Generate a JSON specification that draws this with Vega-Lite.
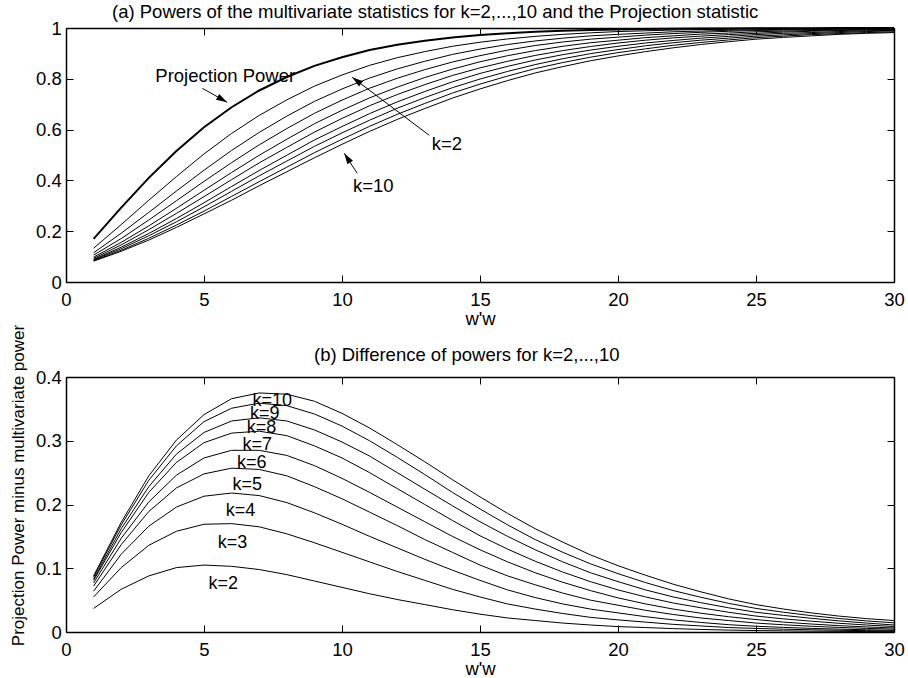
{
"$schema": "https://vega.github.io/schema/vega-lite/v6.json",
"padding": {"left": 9, "top": 2, "right": 4, "bottom": 2},
"spacing": -4,
"config": {
  "font": "Liberation Sans",
  "view": {"stroke": null},
  "axis": {"grid": false, "domainColor": "black", "domainWidth": 1.5, "tickColor": "black", "tickWidth": 1, "tickSize": -7, "labelColor": "black", "labelFont": "Liberation Sans", "labelFontSize": 18.5, "labelFlush": false, "labelOverlap": false, "titleColor": "black", "titleFont": "Liberation Sans", "titleFontSize": 18.5, "titleFontWeight": "normal"},
  "title": {"font": "Liberation Sans", "fontSize": 18.5, "fontWeight": "normal", "color": "black"}
},
"datasets": {
"proj": [{"x":1,"p":0.170},{"x":2,"p":0.293},{"x":3,"p":0.410},{"x":4,"p":0.516},{"x":5,"p":0.609},{"x":6,"p":0.688},{"x":7,"p":0.754},{"x":8,"p":0.807},{"x":9,"p":0.851},{"x":10,"p":0.885},{"x":11,"p":0.913},{"x":12,"p":0.934},{"x":13,"p":0.950},{"x":14,"p":0.963},{"x":15,"p":0.972},{"x":16,"p":0.979},{"x":17,"p":0.985},{"x":18,"p":0.989},{"x":19,"p":0.992},{"x":20,"p":0.994},{"x":21,"p":0.9956},{"x":22,"p":0.9968},{"x":23,"p":0.9977},{"x":24,"p":0.9984},{"x":25,"p":0.9988},{"x":26,"p":0.9992},{"x":27,"p":0.9994},{"x":28,"p":0.9996},{"x":29,"p":0.9997},{"x":30,"p":0.9998}],
"curves": [
{"x":1,"k":2,"p":0.133,"d":0.037},{"x":1,"k":3,"p":0.115,"d":0.055},{"x":1,"k":4,"p":0.106,"d":0.064},{"x":1,"k":5,"p":0.098,"d":0.072},{"x":1,"k":6,"p":0.093,"d":0.077},{"x":1,"k":7,"p":0.089,"d":0.081},{"x":1,"k":8,"p":0.087,"d":0.083},{"x":1,"k":9,"p":0.084,"d":0.086},{"x":1,"k":10,"p":0.082,"d":0.088},
{"x":2,"k":2,"p":0.226,"d":0.067},{"x":2,"k":3,"p":0.192,"d":0.101},{"x":2,"k":4,"p":0.171,"d":0.122},{"x":2,"k":5,"p":0.156,"d":0.137},{"x":2,"k":6,"p":0.146,"d":0.147},{"x":2,"k":7,"p":0.137,"d":0.156},{"x":2,"k":8,"p":0.131,"d":0.162},{"x":2,"k":9,"p":0.125,"d":0.168},{"x":2,"k":10,"p":0.121,"d":0.172},
{"x":3,"k":2,"p":0.322,"d":0.088},{"x":3,"k":3,"p":0.274,"d":0.136},{"x":3,"k":4,"p":0.244,"d":0.166},{"x":3,"k":5,"p":0.221,"d":0.189},{"x":3,"k":6,"p":0.206,"d":0.204},{"x":3,"k":7,"p":0.191,"d":0.219},{"x":3,"k":8,"p":0.182,"d":0.228},{"x":3,"k":9,"p":0.172,"d":0.238},{"x":3,"k":10,"p":0.165,"d":0.245},
{"x":4,"k":2,"p":0.415,"d":0.101},{"x":4,"k":3,"p":0.358,"d":0.158},{"x":4,"k":4,"p":0.320,"d":0.196},{"x":4,"k":5,"p":0.290,"d":0.226},{"x":4,"k":6,"p":0.270,"d":0.246},{"x":4,"k":7,"p":0.250,"d":0.266},{"x":4,"k":8,"p":0.237,"d":0.279},{"x":4,"k":9,"p":0.224,"d":0.292},{"x":4,"k":10,"p":0.215,"d":0.301},
{"x":5,"k":2,"p":0.504,"d":0.105},{"x":5,"k":3,"p":0.440,"d":0.169},{"x":5,"k":4,"p":0.396,"d":0.213},{"x":5,"k":5,"p":0.361,"d":0.248},{"x":5,"k":6,"p":0.336,"d":0.273},{"x":5,"k":7,"p":0.312,"d":0.297},{"x":5,"k":8,"p":0.296,"d":0.313},{"x":5,"k":9,"p":0.279,"d":0.330},{"x":5,"k":10,"p":0.268,"d":0.341},
{"x":6,"k":2,"p":0.585,"d":0.103},{"x":6,"k":3,"p":0.518,"d":0.170},{"x":6,"k":4,"p":0.470,"d":0.218},{"x":6,"k":5,"p":0.431,"d":0.257},{"x":6,"k":6,"p":0.403,"d":0.285},{"x":6,"k":7,"p":0.376,"d":0.312},{"x":6,"k":8,"p":0.357,"d":0.331},{"x":6,"k":9,"p":0.337,"d":0.351},{"x":6,"k":10,"p":0.322,"d":0.366},
{"x":7,"k":2,"p":0.656,"d":0.098},{"x":7,"k":3,"p":0.589,"d":0.165},{"x":7,"k":4,"p":0.540,"d":0.214},{"x":7,"k":5,"p":0.499,"d":0.255},{"x":7,"k":6,"p":0.469,"d":0.285},{"x":7,"k":7,"p":0.439,"d":0.315},{"x":7,"k":8,"p":0.418,"d":0.336},{"x":7,"k":9,"p":0.395,"d":0.359},{"x":7,"k":10,"p":0.379,"d":0.375},
{"x":8,"k":2,"p":0.717,"d":0.090},{"x":8,"k":3,"p":0.653,"d":0.154},{"x":8,"k":4,"p":0.604,"d":0.203},{"x":8,"k":5,"p":0.562,"d":0.245},{"x":8,"k":6,"p":0.530,"d":0.277},{"x":8,"k":7,"p":0.499,"d":0.308},{"x":8,"k":8,"p":0.476,"d":0.331},{"x":8,"k":9,"p":0.452,"d":0.355},{"x":8,"k":10,"p":0.434,"d":0.373},
{"x":9,"k":2,"p":0.771,"d":0.080},{"x":9,"k":3,"p":0.711,"d":0.140},{"x":9,"k":4,"p":0.664,"d":0.187},{"x":9,"k":5,"p":0.623,"d":0.228},{"x":9,"k":6,"p":0.590,"d":0.261},{"x":9,"k":7,"p":0.559,"d":0.292},{"x":9,"k":8,"p":0.534,"d":0.317},{"x":9,"k":9,"p":0.509,"d":0.342},{"x":9,"k":10,"p":0.489,"d":0.362},
{"x":10,"k":2,"p":0.815,"d":0.070},{"x":10,"k":3,"p":0.760,"d":0.125},{"x":10,"k":4,"p":0.716,"d":0.169},{"x":10,"k":5,"p":0.676,"d":0.209},{"x":10,"k":6,"p":0.644,"d":0.241},{"x":10,"k":7,"p":0.612,"d":0.273},{"x":10,"k":8,"p":0.587,"d":0.298},{"x":10,"k":9,"p":0.562,"d":0.323},{"x":10,"k":10,"p":0.542,"d":0.343},
{"x":11,"k":2,"p":0.853,"d":0.060},{"x":11,"k":3,"p":0.803,"d":0.110},{"x":11,"k":4,"p":0.763,"d":0.150},{"x":11,"k":5,"p":0.725,"d":0.188},{"x":11,"k":6,"p":0.694,"d":0.219},{"x":11,"k":7,"p":0.663,"d":0.250},{"x":11,"k":8,"p":0.637,"d":0.276},{"x":11,"k":9,"p":0.613,"d":0.300},{"x":11,"k":10,"p":0.593,"d":0.320},
{"x":12,"k":2,"p":0.883,"d":0.051},{"x":12,"k":3,"p":0.839,"d":0.095},{"x":12,"k":4,"p":0.802,"d":0.132},{"x":12,"k":5,"p":0.767,"d":0.167},{"x":12,"k":6,"p":0.738,"d":0.196},{"x":12,"k":7,"p":0.709,"d":0.225},{"x":12,"k":8,"p":0.684,"d":0.250},{"x":12,"k":9,"p":0.660,"d":0.274},{"x":12,"k":10,"p":0.640,"d":0.294},
{"x":13,"k":2,"p":0.907,"d":0.043},{"x":13,"k":3,"p":0.869,"d":0.081},{"x":13,"k":4,"p":0.836,"d":0.114},{"x":13,"k":5,"p":0.805,"d":0.145},{"x":13,"k":6,"p":0.777,"d":0.173},{"x":13,"k":7,"p":0.750,"d":0.200},{"x":13,"k":8,"p":0.726,"d":0.224},{"x":13,"k":9,"p":0.703,"d":0.247},{"x":13,"k":10,"p":0.683,"d":0.267},
{"x":14,"k":2,"p":0.928,"d":0.035},{"x":14,"k":3,"p":0.896,"d":0.067},{"x":14,"k":4,"p":0.866,"d":0.097},{"x":14,"k":5,"p":0.838,"d":0.125},{"x":14,"k":6,"p":0.813,"d":0.150},{"x":14,"k":7,"p":0.788,"d":0.175},{"x":14,"k":8,"p":0.765,"d":0.198},{"x":14,"k":9,"p":0.744,"d":0.219},{"x":14,"k":10,"p":0.724,"d":0.239},
{"x":15,"k":2,"p":0.944,"d":0.028},{"x":15,"k":3,"p":0.917,"d":0.055},{"x":15,"k":4,"p":0.891,"d":0.081},{"x":15,"k":5,"p":0.867,"d":0.105},{"x":15,"k":6,"p":0.843,"d":0.129},{"x":15,"k":7,"p":0.821,"d":0.151},{"x":15,"k":8,"p":0.799,"d":0.173},{"x":15,"k":9,"p":0.779,"d":0.193},{"x":15,"k":10,"p":0.760,"d":0.212},
{"x":16,"k":2,"p":0.957,"d":0.022},{"x":16,"k":3,"p":0.935,"d":0.044},{"x":16,"k":4,"p":0.913,"d":0.066},{"x":16,"k":5,"p":0.891,"d":0.088},{"x":16,"k":6,"p":0.869,"d":0.110},{"x":16,"k":7,"p":0.849,"d":0.130},{"x":16,"k":8,"p":0.829,"d":0.150},{"x":16,"k":9,"p":0.811,"d":0.168},{"x":16,"k":10,"p":0.793,"d":0.186},
{"x":17,"k":2,"p":0.967,"d":0.018},{"x":17,"k":3,"p":0.949,"d":0.036},{"x":17,"k":4,"p":0.931,"d":0.054},{"x":17,"k":5,"p":0.911,"d":0.074},{"x":17,"k":6,"p":0.892,"d":0.093},{"x":17,"k":7,"p":0.874,"d":0.111},{"x":17,"k":8,"p":0.856,"d":0.129},{"x":17,"k":9,"p":0.840,"d":0.145},{"x":17,"k":10,"p":0.823,"d":0.162},
{"x":18,"k":2,"p":0.975,"d":0.014},{"x":18,"k":3,"p":0.960,"d":0.029},{"x":18,"k":4,"p":0.945,"d":0.044},{"x":18,"k":5,"p":0.928,"d":0.061},{"x":18,"k":6,"p":0.911,"d":0.078},{"x":18,"k":7,"p":0.895,"d":0.094},{"x":18,"k":8,"p":0.879,"d":0.110},{"x":18,"k":9,"p":0.864,"d":0.125},{"x":18,"k":10,"p":0.848,"d":0.141},
{"x":19,"k":2,"p":0.981,"d":0.011},{"x":19,"k":3,"p":0.969,"d":0.023},{"x":19,"k":4,"p":0.956,"d":0.036},{"x":19,"k":5,"p":0.942,"d":0.050},{"x":19,"k":6,"p":0.927,"d":0.065},{"x":19,"k":7,"p":0.913,"d":0.079},{"x":19,"k":8,"p":0.899,"d":0.093},{"x":19,"k":9,"p":0.885,"d":0.107},{"x":19,"k":10,"p":0.871,"d":0.121},
{"x":20,"k":2,"p":0.986,"d":0.0085},{"x":20,"k":3,"p":0.975,"d":0.019},{"x":20,"k":4,"p":0.964,"d":0.030},{"x":20,"k":5,"p":0.952,"d":0.042},{"x":20,"k":6,"p":0.941,"d":0.0535},{"x":20,"k":7,"p":0.928,"d":0.066},{"x":20,"k":8,"p":0.915,"d":0.079},{"x":20,"k":9,"p":0.903,"d":0.0915},{"x":20,"k":10,"p":0.890,"d":0.104},
{"x":21,"k":2,"p":0.989,"d":0.007},{"x":21,"k":3,"p":0.980,"d":0.0155},{"x":21,"k":4,"p":0.972,"d":0.024},{"x":21,"k":5,"p":0.962,"d":0.034},{"x":21,"k":6,"p":0.952,"d":0.044},{"x":21,"k":7,"p":0.941,"d":0.055},{"x":21,"k":8,"p":0.930,"d":0.066},{"x":21,"k":9,"p":0.918,"d":0.0775},{"x":21,"k":10,"p":0.907,"d":0.089},
{"x":22,"k":2,"p":0.992,"d":0.0053},{"x":22,"k":3,"p":0.985,"d":0.012},{"x":22,"k":4,"p":0.978,"d":0.019},{"x":22,"k":5,"p":0.969,"d":0.0275},{"x":22,"k":6,"p":0.961,"d":0.036},{"x":22,"k":7,"p":0.951,"d":0.0455},{"x":22,"k":8,"p":0.942,"d":0.055},{"x":22,"k":9,"p":0.932,"d":0.065},{"x":22,"k":10,"p":0.922,"d":0.075},
{"x":23,"k":2,"p":0.994,"d":0.004},{"x":23,"k":3,"p":0.988,"d":0.0095},{"x":23,"k":4,"p":0.983,"d":0.015},{"x":23,"k":5,"p":0.976,"d":0.022},{"x":23,"k":6,"p":0.968,"d":0.0295},{"x":23,"k":7,"p":0.960,"d":0.038},{"x":23,"k":8,"p":0.952,"d":0.046},{"x":23,"k":9,"p":0.943,"d":0.0545},{"x":23,"k":10,"p":0.935,"d":0.063},
{"x":24,"k":2,"p":0.995,"d":0.003},{"x":24,"k":3,"p":0.991,"d":0.007},{"x":24,"k":4,"p":0.987,"d":0.0115},{"x":24,"k":5,"p":0.980,"d":0.018},{"x":24,"k":6,"p":0.974,"d":0.024},{"x":24,"k":7,"p":0.967,"d":0.031},{"x":24,"k":8,"p":0.960,"d":0.038},{"x":24,"k":9,"p":0.953,"d":0.045},{"x":24,"k":10,"p":0.946,"d":0.052},
{"x":25,"k":2,"p":0.997,"d":0.0023},{"x":25,"k":3,"p":0.993,"d":0.0056},{"x":25,"k":4,"p":0.990,"d":0.009},{"x":25,"k":5,"p":0.985,"d":0.014},{"x":25,"k":6,"p":0.979,"d":0.0195},{"x":25,"k":7,"p":0.974,"d":0.025},{"x":25,"k":8,"p":0.968,"d":0.031},{"x":25,"k":9,"p":0.962,"d":0.037},{"x":25,"k":10,"p":0.956,"d":0.043},
{"x":26,"k":2,"p":0.997,"d":0.0018},{"x":26,"k":3,"p":0.995,"d":0.0044},{"x":26,"k":4,"p":0.992,"d":0.0072},{"x":26,"k":5,"p":0.988,"d":0.0113},{"x":26,"k":6,"p":0.984,"d":0.0155},{"x":26,"k":7,"p":0.979,"d":0.0206},{"x":26,"k":8,"p":0.973,"d":0.026},{"x":26,"k":9,"p":0.968,"d":0.031},{"x":26,"k":10,"p":0.963,"d":0.036},
{"x":27,"k":2,"p":0.998,"d":0.0013},{"x":27,"k":3,"p":0.996,"d":0.0035},{"x":27,"k":4,"p":0.994,"d":0.0057},{"x":27,"k":5,"p":0.990,"d":0.009},{"x":27,"k":6,"p":0.987,"d":0.0125},{"x":27,"k":7,"p":0.982,"d":0.017},{"x":27,"k":8,"p":0.978,"d":0.0215},{"x":27,"k":9,"p":0.974,"d":0.0257},{"x":27,"k":10,"p":0.969,"d":0.030},
{"x":28,"k":2,"p":0.999,"d":0.001},{"x":28,"k":3,"p":0.997,"d":0.0027},{"x":28,"k":4,"p":0.995,"d":0.0045},{"x":28,"k":5,"p":0.992,"d":0.0072},{"x":28,"k":6,"p":0.990,"d":0.010},{"x":28,"k":7,"p":0.986,"d":0.0137},{"x":28,"k":8,"p":0.982,"d":0.0175},{"x":28,"k":9,"p":0.978,"d":0.0212},{"x":28,"k":10,"p":0.975,"d":0.025},
{"x":29,"k":2,"p":0.999,"d":0.0007},{"x":29,"k":3,"p":0.998,"d":0.0021},{"x":29,"k":4,"p":0.996,"d":0.0035},{"x":29,"k":5,"p":0.994,"d":0.0057},{"x":29,"k":6,"p":0.992,"d":0.008},{"x":29,"k":7,"p":0.989,"d":0.011},{"x":29,"k":8,"p":0.986,"d":0.014},{"x":29,"k":9,"p":0.982,"d":0.0174},{"x":29,"k":10,"p":0.979,"d":0.021},
{"x":30,"k":2,"p":0.999,"d":0.0005},{"x":30,"k":3,"p":0.998,"d":0.0015},{"x":30,"k":4,"p":0.997,"d":0.0026},{"x":30,"k":5,"p":0.995,"d":0.0044},{"x":30,"k":6,"p":0.994,"d":0.0063},{"x":30,"k":7,"p":0.991,"d":0.0086},{"x":30,"k":8,"p":0.989,"d":0.011},{"x":30,"k":9,"p":0.985,"d":0.0144},{"x":30,"k":10,"p":0.982,"d":0.018}
],
"toplabels": [{"x":5.77,"y":0.786,"t":"Projection Power"},{"x":13.8,"y":0.5185,"t":"k=2"},{"x":11.13,"y":0.3543,"t":"k=10"}],
"arrows": [{"id":1,"x":4.94,"y":0.7626,"x2":5.84,"y2":0.7075},{"id":2,"x":13.16,"y":0.5776,"x2":10.37,"y2":0.8059},{"id":3,"x":10.55,"y":0.428,"x2":10.08,"y2":0.5067}],
"botlabels": [{"x":7.47,"y":0.3545,"t":"k=10"},{"x":7.20,"y":0.3340,"t":"k=9"},{"x":7.08,"y":0.3120,"t":"k=8"},{"x":6.93,"y":0.2853,"t":"k=7"},{"x":6.73,"y":0.2571,"t":"k=6"},{"x":6.57,"y":0.2226,"t":"k=5"},{"x":6.32,"y":0.1818,"t":"k=4"},{"x":6.03,"y":0.1316,"t":"k=3"},{"x":5.70,"y":0.0671,"t":"k=2"}]
},
"vconcat": [
{
  "width": 828, "height": 254,
  "title": {"text": "(a) Powers of the multivariate statistics for k=2,...,10 and the Projection statistic", "anchor": "start", "frame": "group", "dx": 46, "offset": -2},
  "layer": [
    {"data": {"name": "curves"}, "mark": {"type": "line", "color": "black", "strokeWidth": 1},
     "encoding": {
       "x": {"field": "x", "type": "quantitative", "scale": {"domain": [0, 30], "nice": false, "zero": false}, "axis": {"orient": "bottom", "values": [0,5,10,15,20,25,30], "format": "~g", "title": "w'w", "labelPadding": 15, "titlePadding": 1}},
       "y": {"field": "p", "type": "quantitative", "scale": {"domain": [0, 1], "nice": false}, "axis": {"orient": "left", "values": [0,0.2,0.4,0.6,0.8,1], "format": "~g", "title": null, "labelPadding": 11.7}},
       "detail": {"field": "k", "type": "nominal"}}},
    {"data": {"name": "proj"}, "mark": {"type": "line", "color": "black", "strokeWidth": 2},
     "encoding": {"x": {"field": "x", "type": "quantitative", "axis": null}, "y": {"field": "p", "type": "quantitative", "axis": null}}},
    {"data": {"name": "toplabels"}, "mark": {"type": "text", "fontSize": 18.5, "baseline": "alphabetic", "align": "center", "color": "black", "font": "Liberation Sans"},
     "encoding": {"x": {"field": "x", "type": "quantitative", "axis": null}, "y": {"field": "y", "type": "quantitative", "axis": null}, "text": {"field": "t"}}},
    {"data": {"name": "arrows"}, "mark": {"type": "rule", "color": "black", "strokeWidth": 1},
     "encoding": {"x": {"field": "x", "type": "quantitative", "axis": null}, "y": {"field": "y", "type": "quantitative", "axis": null}, "x2": {"field": "x2"}, "y2": {"field": "y2"}}},
    {"data": {"name": "arrows"}, "transform": [{"filter": "datum.id == 1"}], "mark": {"type": "point", "shape": "M0,0L-0.3,1L0.3,1Z", "filled": true, "color": "black", "opacity": 1, "size": 484, "angle": 119, "strokeWidth": 0},
     "encoding": {"x": {"field": "x2", "type": "quantitative", "axis": null}, "y": {"field": "y2", "type": "quantitative", "axis": null}}},
    {"data": {"name": "arrows"}, "transform": [{"filter": "datum.id == 2"}], "mark": {"type": "point", "shape": "M0,0L-0.3,1L0.3,1Z", "filled": true, "color": "black", "opacity": 1, "size": 484, "angle": 307, "strokeWidth": 0},
     "encoding": {"x": {"field": "x2", "type": "quantitative", "axis": null}, "y": {"field": "y2", "type": "quantitative", "axis": null}}},
    {"data": {"name": "arrows"}, "transform": [{"filter": "datum.id == 3"}], "mark": {"type": "point", "shape": "M0,0L-0.3,1L0.3,1Z", "filled": true, "color": "black", "opacity": 1, "size": 484, "angle": 327, "strokeWidth": 0},
     "encoding": {"x": {"field": "x2", "type": "quantitative", "axis": null}, "y": {"field": "y2", "type": "quantitative", "axis": null}}},
    {"data": {"name": "proj"}, "mark": {"type": "line", "opacity": 0},
     "encoding": {
       "x": {"field": "x", "type": "quantitative", "axis": {"orient": "top", "values": [0,5,10,15,20,25,30], "labels": false, "title": null}},
       "y": {"field": "p", "type": "quantitative", "axis": {"orient": "right", "values": [0,0.2,0.4,0.6,0.8,1], "labels": false, "title": null}}}}
  ],
  "resolve": {"axis": {"x": "independent", "y": "independent"}}
},
{
  "width": 828, "height": 255,
  "title": {"text": "(b) Difference of powers for k=2,...,10", "anchor": "start", "frame": "group", "dx": 248, "offset": -40.6},
  "layer": [
    {"data": {"name": "curves"}, "mark": {"type": "line", "color": "black", "strokeWidth": 1},
     "encoding": {
       "x": {"field": "x", "type": "quantitative", "scale": {"domain": [0, 30], "nice": false, "zero": false}, "axis": {"orient": "bottom", "values": [0,5,10,15,20,25,30], "format": "~g", "title": "w'w", "labelPadding": 15, "titlePadding": 1}},
       "y": {"field": "d", "type": "quantitative", "scale": {"domain": [0, 0.4], "nice": false}, "axis": {"orient": "left", "values": [0,0.1,0.2,0.3,0.4], "format": "~g", "title": "Projection Power minus multivariate power", "titleFontSize": 17, "titleAngle": -90, "titleBaseline": "bottom", "titleX": -38.7, "titleY": 108, "labelPadding": 11.7}},
       "detail": {"field": "k", "type": "nominal"}}},
    {"data": {"name": "botlabels"}, "mark": {"type": "text", "fontSize": 18, "baseline": "alphabetic", "align": "center", "color": "black", "font": "Liberation Sans"},
     "encoding": {"x": {"field": "x", "type": "quantitative", "axis": null}, "y": {"field": "y", "type": "quantitative", "axis": null}, "text": {"field": "t"}}},
    {"data": {"name": "curves"}, "mark": {"type": "line", "opacity": 0},
     "encoding": {
       "x": {"field": "x", "type": "quantitative", "axis": {"orient": "top", "values": [0,5,10,15,20,25,30], "labels": false, "title": null}},
       "y": {"field": "d", "type": "quantitative", "axis": {"orient": "right", "values": [0,0.1,0.2,0.3,0.4], "labels": false, "title": null}},
       "detail": {"field": "k", "type": "nominal"}}}
  ],
  "resolve": {"axis": {"x": "independent", "y": "independent"}}
}
]
}
